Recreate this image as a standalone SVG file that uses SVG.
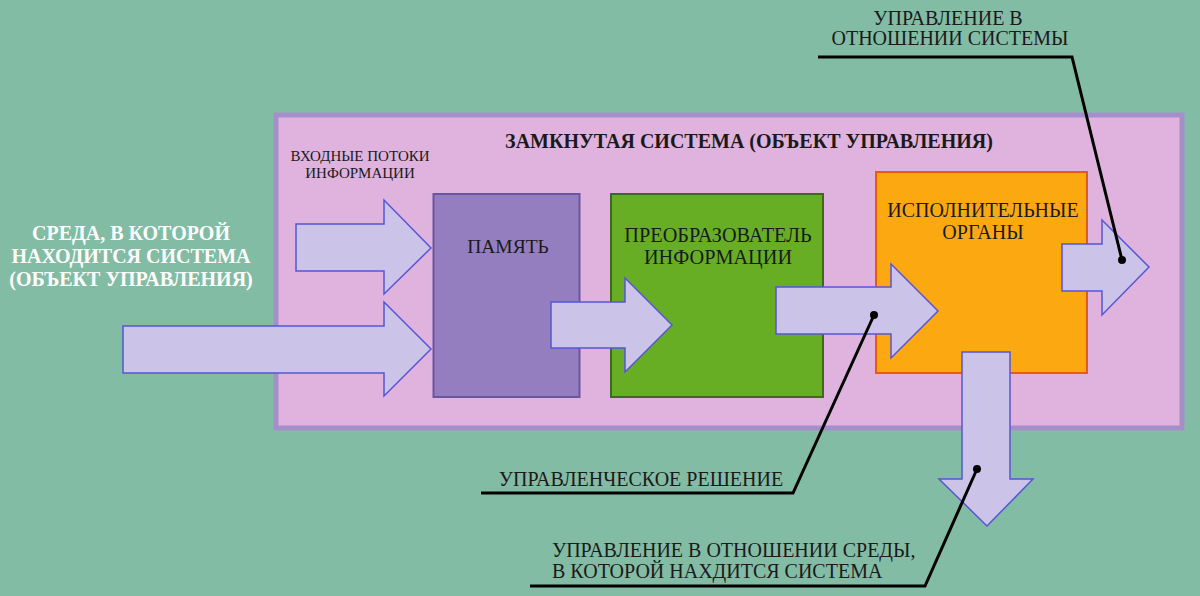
<svg xmlns="http://www.w3.org/2000/svg" width="1200" height="596" viewBox="0 0 1200 596">
<style>
.t{font-family:'Liberation Serif','DejaVu Serif','Times New Roman',serif;fill:#1a1a1a;text-anchor:middle}
.b{font-weight:bold}
.arrow{fill:#cbc4e8;stroke:#5656d6;stroke-width:1.5;stroke-linejoin:miter}
.lead{fill:none;stroke:#000;stroke-width:3;stroke-linejoin:miter}
</style>
<rect width="1200" height="596" fill="#82bca4"/>
<g id="system">
<rect x="276" y="115" width="906" height="313" fill="#dfb3de" stroke="#a58fcb" stroke-width="5"/>
<text class="t b" x="749" y="148" font-size="20" font-family="Liberation Serif, serif">ЗАМКНУТАЯ СИСТЕМА (ОБЪЕКТ УПРАВЛЕНИЯ)</text>
<text class="t" x="360" y="161" font-size="15" font-family="Liberation Serif, serif">ВХОДНЫЕ ПОТОКИ</text>
<text class="t" x="360" y="178" font-size="15" font-family="Liberation Serif, serif">ИНФОРМАЦИИ</text>
</g>
<g id="env">
<text class="t b" x="131" y="240" font-size="20" font-family="Liberation Serif, serif" style="fill:#ffffff">СРЕДА, В КОТОРОЙ</text>
<text class="t b" x="131" y="263" font-size="20" font-family="Liberation Serif, serif" style="fill:#ffffff">НАХОДИТСЯ СИСТЕМА</text>
<text class="t b" x="131" y="286" font-size="20" font-family="Liberation Serif, serif" style="fill:#ffffff">(ОБЪЕКТ УПРАВЛЕНИЯ)</text>
</g>
<g id="memory">
<rect x="433.5" y="194" width="146" height="203" fill="#957ec0" stroke="#6a55a0" stroke-width="2"/>
<text class="t" x="508" y="253" font-size="19.5" font-family="Liberation Serif, serif">ПАМЯТЬ</text>
</g>
<g id="converter">
<rect x="611" y="194" width="212" height="203" fill="#67ae24" stroke="#3f6a1e" stroke-width="2"/>
<text class="t" x="718" y="242" font-size="20.3" font-family="Liberation Serif, serif">ПРЕОБРАЗОВАТЕЛЬ</text>
<text class="t" x="718" y="264" font-size="20.3" font-family="Liberation Serif, serif">ИНФОРМАЦИИ</text>
</g>
<g id="executors">
<rect x="876" y="172" width="211" height="201" fill="#fca911" stroke="#e85a10" stroke-width="2"/>
<text class="t" x="983" y="217" font-size="20" font-family="Liberation Serif, serif">ИСПОЛНИТЕЛЬНЫЕ</text>
<text class="t" x="983" y="239" font-size="20" font-family="Liberation Serif, serif">ОРГАНЫ</text>
</g>
<g id="connectors">
<polygon class="arrow" points="296,224 384,224 384,200 431,248 384,294 384,271 296,271"/>
<polygon class="arrow" points="123,326 384,326 384,302 431,349 384,396 384,373 123,373"/>
<polygon class="arrow" points="551,302 625,302 625,278 672,325 625,372 625,348 551,348"/>
<polygon class="arrow" points="776,287 891,287 891,264 938,311 891,358 891,334 776,334"/>
<polygon class="arrow" points="1062,244 1102,244 1102,220 1149,267 1102,315 1102,291 1062,291"/>
<polygon class="arrow" points="962,352 1010,352 1010,479 1033,479 987,526 939,479 962,479"/>
<polyline class="lead" points="818,57 1072,57 1122,260"/>
<polyline class="lead" points="874,315 793,493 481,493"/>
<polyline class="lead" points="977,469 925,586 530,586"/>
<circle cx="1122" cy="260" r="4"/>
<circle cx="874" cy="315" r="4"/>
<circle cx="977" cy="469" r="4"/>
</g>
<g id="labels">
<text class="t" x="948" y="25" font-size="20" font-family="Liberation Serif, serif">УПРАВЛЕНИЕ В</text>
<text class="t" x="950" y="45" font-size="20" font-family="Liberation Serif, serif">ОТНОШЕНИИ СИСТЕМЫ</text>
<text class="t" x="641" y="486" font-size="20" font-family="Liberation Serif, serif">УПРАВЛЕНЧЕСКОЕ РЕШЕНИЕ</text>
<text class="t" x="552" y="557" font-size="20" font-family="Liberation Serif, serif" style="text-anchor:start">УПРАВЛЕНИЕ В ОТНОШЕНИИ СРЕДЫ,</text>
<text class="t" x="552" y="578" font-size="20" font-family="Liberation Serif, serif" style="text-anchor:start">В КОТОРОЙ НАХДИТСЯ СИСТЕМА</text>
</g>
</svg>
